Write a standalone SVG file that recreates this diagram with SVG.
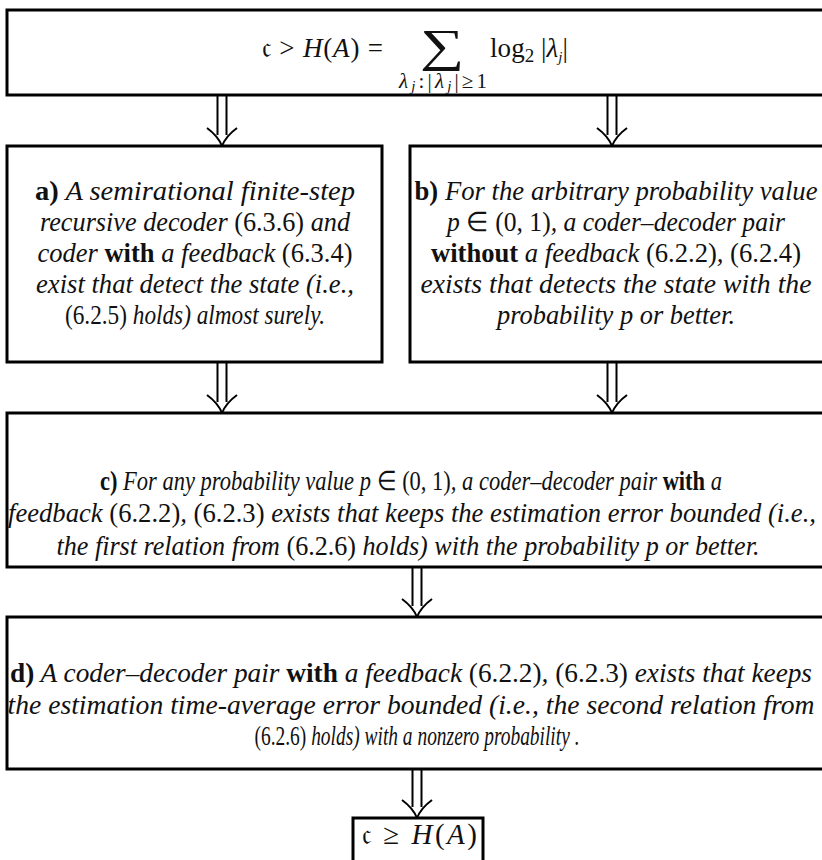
<svg xmlns="http://www.w3.org/2000/svg" width="822" height="860" viewBox="0 0 822 860">
  <style>
    .box { fill: #fff; stroke: #000; stroke-width: 3; }
    .t { font-family: "Liberation Serif", "Times New Roman", Times, serif; font-size: 27px; font-style: italic; fill: #111; }
    .m { font-family: "Liberation Serif", "Times New Roman", Times, serif; font-size: 27px; fill: #111; }
    .r { font-style: normal; }
    .i { font-style: italic; }
    .bf { font-style: normal; font-weight: bold; }
    .sub { font-size: 19px; }
    .lim { font-size: 21px; }
    .ss { font-size: 15px; }
    .big { font-size: 46px; }
    .fr { font-family: "DejaVu Serif", "DejaVu Sans", serif; font-size: 30px; }
    .arrow { fill: none; stroke: #000; stroke-width: 2; }
  </style>
  <defs>
    <!-- double-shaft downward arrow, tip at (0,0) -->
    <path id="dbl" d="M-4.5,-50 V-11 M4.5,-50 V-11 M-15,-18 Q-4,-10 0,0 M15,-18 Q4,-10 0,0"/>
  </defs>
  <rect width="822" height="860" fill="#fff"/>

  <g id="connectors" class="arrow">
    <use href="#dbl" x="222" y="146"/>
    <use href="#dbl" x="612" y="146"/>
    <use href="#dbl" x="222" y="413"/>
    <use href="#dbl" x="612" y="413"/>
    <use href="#dbl" x="417" y="617"/>
    <use href="#dbl" x="417" y="818"/>
  </g>

  <g id="top">
    <rect class="box" x="7" y="10" width="820" height="85"/>
    <text class="m" x="262" y="57" textLength="121" lengthAdjust="spacing"><tspan class="fr">𝔠</tspan> &gt; <tspan class="i">H</tspan>(<tspan class="i">A</tspan>) =</text>
    <text class="m big" transform="translate(442,61) scale(1.35,1)" text-anchor="middle">∑</text>
    <text class="m lim" x="443" y="88" text-anchor="middle" textLength="88" lengthAdjust="spacing"><tspan class="i">λ</tspan><tspan class="i ss" dy="3">j</tspan><tspan dy="-3">:|</tspan><tspan class="i">λ</tspan><tspan class="i ss" dy="3">j</tspan><tspan dy="-3">|≥1</tspan></text>
    <text class="m" x="490" y="57" textLength="78" lengthAdjust="spacing">log<tspan class="sub" dy="5">2</tspan><tspan dy="-5"> |</tspan><tspan class="i">λ</tspan><tspan class="i ss" dy="5">j</tspan><tspan dy="-5">|</tspan></text>
  </g>

  <g id="node-a">
    <rect class="box" x="7" y="146" width="375" height="216"/>
    <text class="t" x="195" y="200" text-anchor="middle" textLength="320" lengthAdjust="spacingAndGlyphs"><tspan class="bf">a)</tspan> A semirational finite-step</text>
    <text class="t" x="195" y="231" text-anchor="middle" textLength="310" lengthAdjust="spacingAndGlyphs">recursive decoder <tspan class="r">(6.3.6)</tspan> and</text>
    <text class="t" x="195" y="262" text-anchor="middle" textLength="315" lengthAdjust="spacingAndGlyphs">coder <tspan class="bf">with</tspan> a feedback <tspan class="r">(6.3.4)</tspan></text>
    <text class="t" x="195" y="293" text-anchor="middle" textLength="318" lengthAdjust="spacingAndGlyphs">exist that detect the state (i.e.,</text>
    <text class="t" x="195" y="324" text-anchor="middle" textLength="260" lengthAdjust="spacingAndGlyphs"><tspan class="r">(6.2.5)</tspan> holds) almost surely.</text>
  </g>

  <g id="node-b">
    <rect class="box" x="410" y="146" width="417" height="216"/>
    <text class="t" x="616" y="200" text-anchor="middle" textLength="403" lengthAdjust="spacingAndGlyphs"><tspan class="bf">b)</tspan> For the arbitrary probability value</text>
    <text class="t" x="616" y="231" text-anchor="middle" textLength="338" lengthAdjust="spacingAndGlyphs">p <tspan class="r">∈ (0, 1)</tspan>, a coder–decoder pair</text>
    <text class="t" x="616" y="262" text-anchor="middle" textLength="370" lengthAdjust="spacingAndGlyphs"><tspan class="bf">without</tspan> a feedback <tspan class="r">(6.2.2)</tspan>, <tspan class="r">(6.2.4)</tspan></text>
    <text class="t" x="616" y="293" text-anchor="middle" textLength="391" lengthAdjust="spacingAndGlyphs">exists that detects the state with the</text>
    <text class="t" x="616" y="324" text-anchor="middle" textLength="238" lengthAdjust="spacingAndGlyphs">probability p or better.</text>
  </g>

  <g id="node-c">
    <rect class="box" x="7" y="413" width="820" height="154"/>
    <text class="t" x="411" y="490" text-anchor="middle" textLength="622" lengthAdjust="spacingAndGlyphs"><tspan class="bf">c)</tspan> For any probability value p <tspan class="r">∈ (0, 1)</tspan>, a coder–decoder pair <tspan class="bf">with</tspan> a</text>
    <text class="t" x="412" y="522" text-anchor="middle" textLength="808" lengthAdjust="spacingAndGlyphs">feedback <tspan class="r">(6.2.2)</tspan>, <tspan class="r">(6.2.3)</tspan> exists that keeps the estimation error bounded (i.e.,</text>
    <text class="t" x="408" y="555" text-anchor="middle" textLength="703" lengthAdjust="spacingAndGlyphs">the first relation from <tspan class="r">(6.2.6)</tspan> holds) with the probability p or better.</text>
  </g>

  <g id="node-d">
    <rect class="box" x="7" y="617" width="820" height="152"/>
    <text class="t" x="411" y="682" text-anchor="middle" textLength="802" lengthAdjust="spacingAndGlyphs"><tspan class="bf">d)</tspan> A coder–decoder pair <tspan class="bf">with</tspan> a feedback <tspan class="r">(6.2.2)</tspan>, <tspan class="r">(6.2.3)</tspan> exists that keeps</text>
    <text class="t" x="411" y="714" text-anchor="middle" textLength="807" lengthAdjust="spacingAndGlyphs">the estimation time-average error bounded (i.e., the second relation from</text>
    <text class="t" x="417" y="745" text-anchor="middle" textLength="325" lengthAdjust="spacingAndGlyphs"><tspan class="r">(6.2.6)</tspan> holds) with a nonzero probability .</text>
  </g>

  <g id="bottom">
    <rect class="box" x="353" y="818" width="130" height="60"/>
    <text class="m" x="362" y="844" textLength="115" lengthAdjust="spacing" style="font-size:29px"><tspan class="fr">𝔠</tspan> ≥ <tspan class="i">H</tspan>(<tspan class="i">A</tspan>)</text>
  </g>
</svg>
